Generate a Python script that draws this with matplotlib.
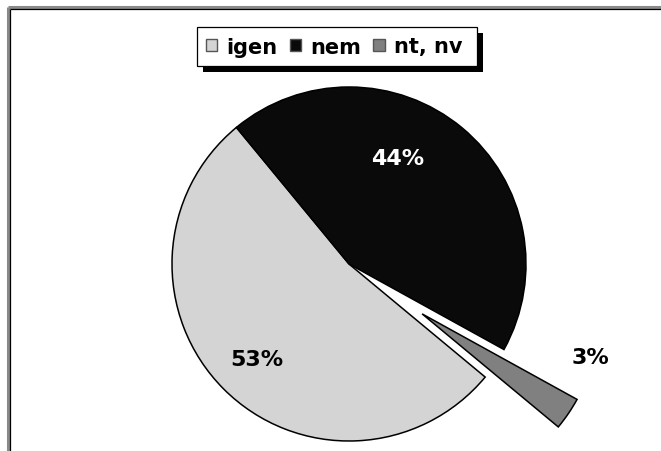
import matplotlib
matplotlib.use("Agg")
import matplotlib.pyplot as plt
from matplotlib.lines import Line2D
from matplotlib.patches import Rectangle, Patch

categories = ["igen", "nem", "nt, nv"]
values = [53, 44, 3]
pct_labels = ["53%", "44%", "3%"]
colors = ["#d4d4d4", "#0a0a0a", "#808080"]
label_colors = ["black", "white", "black"]
explode = [0, 0, 0.5]

W, H = 661, 452
fig = plt.figure(figsize=(W / 100, H / 100), dpi=100)
fig.patch.set_facecolor("white")

# pie geometry in pixels
cx, cy, R = 349, 265, 177
ax = fig.add_axes([0, 0, 1, 1])
wedges, _ = ax.pie(values, colors=colors, explode=explode, startangle=-39.7,
                   counterclock=False,
                   wedgeprops=dict(edgecolor="black", linewidth=1.1))
ax.set_xlim(-cx / R, (W - cx) / R)
ax.set_ylim(-(H - cy) / R, cy / R)
ax.set_axis_off()

# percentage labels (positions in pie radius units)
label_pos = [(-0.52, -0.537), (0.277, 0.599), (1.362, -0.525)]
for txt, (lx, ly), c in zip(pct_labels, label_pos, label_colors):
    ax.text(lx, ly, txt, ha="center", va="center", fontsize=16,
            fontweight="bold", color=c, family="DejaVu Sans")

# outer frame (top and left only visible)
def px(x, y):
    return x / W, 1 - y / H

x0, y0 = px(8, 8)
x1, y1 = px(W + 5, H + 5)
fig.add_artist(Line2D([x0, x0], [y0, y1], transform=fig.transFigure,
                      color="#8a8a8a", linewidth=2.2, solid_capstyle="butt"))
fig.add_artist(Line2D([x0, x1], [y0, y0], transform=fig.transFigure,
                      color="#8a8a8a", linewidth=2.2, solid_capstyle="butt"))
xb, yb = px(10.3, 10.3)
fig.add_artist(Line2D([xb, xb], [yb, y1], transform=fig.transFigure,
                      color="black", linewidth=0.9, solid_capstyle="butt"))
fig.add_artist(Line2D([xb, x1], [yb, yb], transform=fig.transFigure,
                      color="black", linewidth=0.9, solid_capstyle="butt"))

# legend box with shadow (pixel coordinates, y from top)
bx0, by0, bx1, by1 = 197, 28, 477, 67
sh = Rectangle((bx0 + 6, H - by1 - 6), bx1 - bx0, by1 - by0, transform=None,
               facecolor="black", edgecolor="none", zorder=4)
box = Rectangle((bx0, H - by1), bx1 - bx0, by1 - by0, transform=None,
                facecolor="white", edgecolor="black", linewidth=0.9, zorder=4.5)
fig.add_artist(sh)
fig.add_artist(box)

handles = [Patch(facecolor=c, edgecolor="#555555", linewidth=1.0) for c in colors]
lx, ly = px(334, 47.5)
leg = fig.legend(handles, categories, loc="center", bbox_to_anchor=(lx, ly),
                 ncol=3, frameon=False,
                 prop=dict(weight="bold", size=15, family="DejaVu Sans"),
                 handlelength=0.55, handleheight=0.55, handletextpad=0.42,
                 columnspacing=0.6, borderpad=0.42)
leg.set_zorder(5)

fig.savefig("out.png", dpi=100, facecolor="white")
